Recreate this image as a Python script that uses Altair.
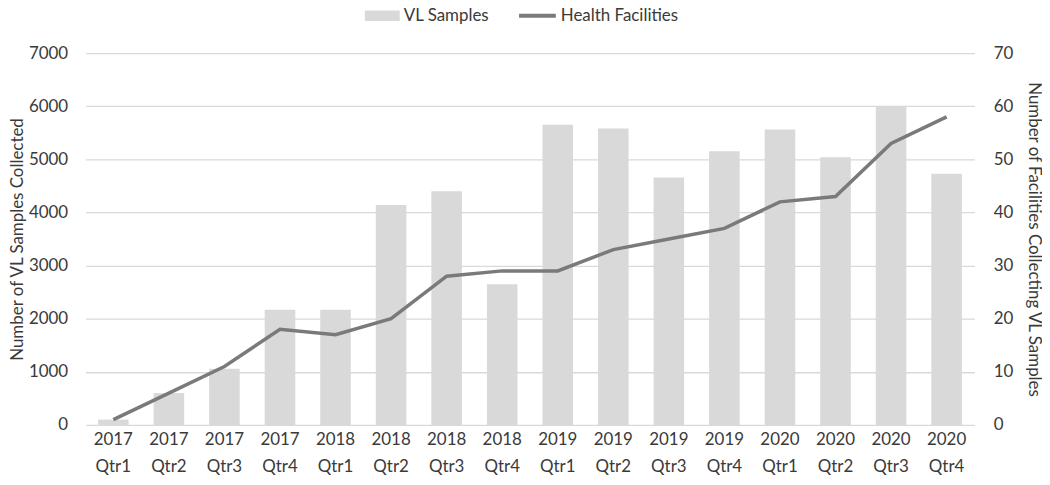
import altair as alt
import pandas as pd

quarters = ["2017 Qtr1", "2017 Qtr2", "2017 Qtr3", "2017 Qtr4",
            "2018 Qtr1", "2018 Qtr2", "2018 Qtr3", "2018 Qtr4",
            "2019 Qtr1", "2019 Qtr2", "2019 Qtr3", "2019 Qtr4",
            "2020 Qtr1", "2020 Qtr2", "2020 Qtr3", "2020 Qtr4"]
vl_samples = [100, 600, 1060, 2170, 2170, 4140, 4400, 2650,
              5650, 5580, 4660, 5150, 5560, 5040, 6000, 4730]
facilities = [1, 6, 11, 18, 17, 20, 28, 29,
              29, 33, 35, 37, 42, 43, 53, 58]
left_ticks = [0, 1000, 2000, 3000, 4000, 5000, 6000, 7000]
right_ticks = [0, 10, 20, 30, 40, 50, 60, 70]

df = pd.DataFrame({"quarter": quarters, "samples": vl_samples, "facilities": facilities})

FONT = "Lato, Open Sans, sans-serif"
TXT = "#3a3a3a"
FS = 17

x = alt.X("quarter:N", sort=quarters, title=None,
          scale=alt.Scale(paddingInner=0.45, paddingOuter=0.225),
          axis=alt.Axis(labelAngle=0, labelExpr="split(datum.label, ' ')",
                        labelFontSize=FS, labelColor=TXT, labelFont=FONT,
                        labelPadding=7, labelLineHeight=27,
                        ticks=False, domain=False))

bars = alt.Chart(df).transform_calculate(s1="'VL Samples'").mark_bar().encode(
    x=x,
    y=alt.Y("samples:Q", scale=alt.Scale(domain=[0, 7000]),
            axis=alt.Axis(values=left_ticks, format="d", title="Number of VL Samples Collected",
                          grid=True, gridColor="#d9d9d9", gridWidth=1.3,
                          domain=False, ticks=False, labelPadding=18,
                          labelFontSize=FS, labelColor=TXT, labelFont=FONT,
                          titleFontSize=FS, titleColor=TXT, titleFont=FONT,
                          titleFontWeight="normal", titlePadding=2)),
    fill=alt.Fill("s1:N", scale=alt.Scale(domain=["VL Samples"], range=["#d9d9d9"]),
                  legend=alt.Legend(title=None, orient="none", legendX=281, legendY=-55,
                                    symbolType="M-1,-0.3H1V0.3H-1Z", symbolSize=1225,
                                    symbolStrokeWidth=0, labelOffset=4,
                                    labelFontSize=FS, labelColor=TXT, labelFont=FONT)),
)

line = alt.Chart(df).transform_calculate(s2="'Health Facilities'").mark_line(strokeWidth=3.5).encode(
    x=x,
    y=alt.Y("facilities:Q", scale=alt.Scale(domain=[0, 70]),
            axis=alt.Axis(orient="right", values=right_ticks, format="d",
                          title="Number of Facilities Collecting VL Samples",
                          grid=False, domain=False, ticks=False, labelPadding=19,
                          labelFontSize=FS, labelColor=TXT, labelFont=FONT,
                          titleFontSize=FS, titleColor=TXT, titleFont=FONT,
                          titleFontWeight="normal", titlePadding=12)),
    stroke=alt.Stroke("s2:N", scale=alt.Scale(domain=["Health Facilities"], range=["#7a7a7a"]),
                      legend=alt.Legend(title=None, orient="none", legendX=434, legendY=-58,
                                        symbolType="stroke", symbolSize=1369,
                                        symbolStrokeWidth=4, labelOffset=3,
                                        labelFontSize=FS, labelColor=TXT, labelFont=FONT)),
)

chart = alt.layer(bars, line).resolve_scale(y="independent").properties(
    width=894, height=374,
    autosize=alt.AutoSizeParams(type="none"),
    padding={"left": 78, "top": 44, "right": 68, "bottom": 50},
).configure_view(stroke=None)

chart.save("out.html", embed_options={"renderer": "svg", "actions": False})
